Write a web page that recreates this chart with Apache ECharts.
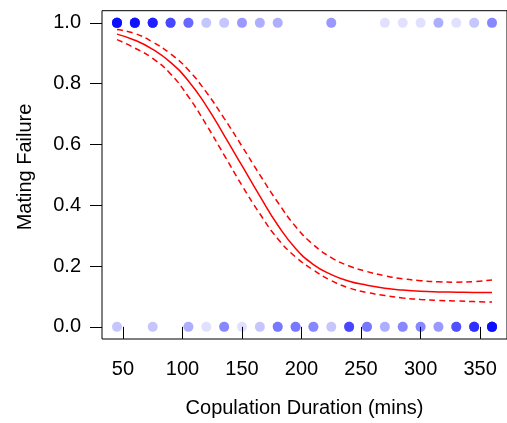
<!DOCTYPE html>
<html>
<head>
<meta charset="utf-8">
<script src="https://cdn.jsdelivr.net/npm/echarts@6/dist/echarts.min.js"></script>
<style>
html,body{margin:0;padding:0;background:#fff;}
#chart{width:507px;height:423px;}
</style>
</head>
<body>
<div id="chart"></div>
<script>
// Observation durations (mins)
var durations = [45,60,75,90,105,120,135,150,165,180,195,210,225,240,255,270,285,300,315,330,345,360];
// number of overlapping observations with failure = 1 at each duration
var countsFail = [22,20,16,10,7,2,2,4,3,3,0,0,4,0,0,1,1,1,3,1,2,5];
// number of overlapping observations with failure = 0 at each duration
var countsOk = [2,0,2,0,3,1,5,1,2,6,6,5,2,10,6,3,5,5,4,9,13,22];

// fitted curve
var curveX = [45,60,75,90,105,120,135,150,165,180,195,210,225,240,255,270,285,300,315,330,345,360];
var fitMid = [0.963,0.943,0.913,0.870,0.809,0.727,0.630,0.530,0.430,0.335,0.258,0.205,0.172,0.150,0.137,0.127,0.121,0.117,0.115,0.114,0.113,0.113];
var fitUpper = [0.978,0.965,0.937,0.898,0.845,0.772,0.686,0.594,0.500,0.410,0.330,0.270,0.228,0.200,0.182,0.168,0.158,0.152,0.148,0.147,0.149,0.154];
var fitLower = [0.945,0.917,0.883,0.832,0.757,0.665,0.565,0.465,0.372,0.290,0.230,0.187,0.152,0.128,0.113,0.103,0.095,0.090,0.087,0.085,0.083,0.0815];

var xTicks = [50,100,150,200,250,300,350];
var yTicks = [0,0.2,0.4,0.6,0.8,1.0];

var xTitle = 'Copulation Duration (mins)';
var yTitle = 'Mating Failure';

function expand(counts, yv){
  var out = [];
  for (var i=0;i<durations.length;i++){
    for (var k=0;k<counts[i];k++) out.push([durations[i], yv]);
  }
  return out;
}
function pairs(xs, ys){
  return xs.map(function(x,i){return [x, ys[i]];});
}

var font = '"Liberation Sans", Arial, Helvetica, sans-serif';
var chart = echarts.init(document.getElementById('chart'), null, {renderer:'canvas'});
chart.setOption({
  animation:false,
  backgroundColor:'#fff',
  grid:{left:102, top:10.7, width:406, height:330, show:true, borderColor:'#000', borderWidth:1, backgroundColor:'transparent'},
  xAxis:{
    type:'value', min:32.4, max:372.6,
    axisLine:{show:false},
    splitLine:{show:false},
    axisTick:{show:true, length:12, customValues:xTicks, lineStyle:{color:'#000', width:1}},
    axisLabel:{customValues:xTicks, margin:20, fontSize:20, color:'#000', fontFamily:font},
    name:xTitle, nameLocation:'middle', nameGap:59,
    nameTextStyle:{fontSize:20, color:'#000', fontFamily:font}
  },
  yAxis:{
    type:'value', min:-0.04, max:1.04,
    axisLine:{show:false},
    splitLine:{show:false},
    axisTick:{show:true, length:12, customValues:yTicks, lineStyle:{color:'#000', width:1}},
    axisLabel:{customValues:yTicks, margin:21, fontSize:20, color:'#000', fontFamily:font,
      formatter:function(v){return v.toFixed(1);}}
  },
  graphic:[{
    type:'text', x:25, y:167, rotation:Math.PI/2,
    style:{text:yTitle, fontSize:20, fill:'#000', font:'20px '+font, textAlign:'center', textVerticalAlign:'middle'}
  }],
  series:[
    {type:'scatter', data:expand(countsFail,1), symbol:'circle', symbolSize:10,
      itemStyle:{color:'rgba(0,0,255,0.15)'}, z:2},
    {type:'scatter', data:expand(countsOk,0), symbol:'circle', symbolSize:10,
      itemStyle:{color:'rgba(0,0,255,0.15)'}, z:2},
    {type:'line', data:pairs(curveX,fitMid), smooth:true, showSymbol:false,
      lineStyle:{color:'#ff0000', width:1.5}, z:3},
    {type:'line', data:pairs(curveX,fitUpper), smooth:true, showSymbol:false,
      lineStyle:{color:'#ff0000', width:1.5, type:[6,4]}, z:3},
    {type:'line', data:pairs(curveX,fitLower), smooth:true, showSymbol:false,
      lineStyle:{color:'#ff0000', width:1.5, type:[6,4]}, z:3}
  ]
});
</script>
</body>
</html>
